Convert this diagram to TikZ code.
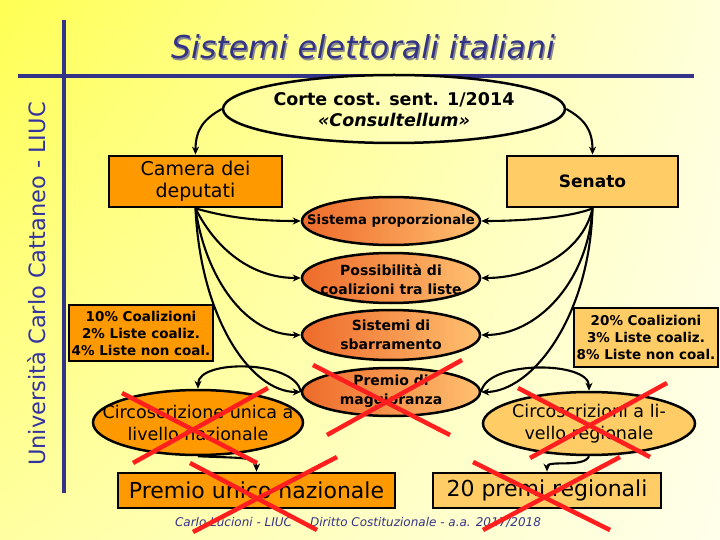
\documentclass[tikz,border=0pt]{standalone}
\usepackage{fontspec}
\setmainfont{DejaVu Sans}
\usetikzlibrary{shapes.geometric,arrows.meta,fadings}
\definecolor{navy}{HTML}{333388}
\definecolor{navyT}{HTML}{3333A0}
\definecolor{orA}{HTML}{FF9900}
\definecolor{orB}{HTML}{FFCC66}
\definecolor{redA}{HTML}{EE6A2A}
\definecolor{orC}{HTML}{FFC070}
\definecolor{corteA}{HTML}{FFFF99}
\definecolor{corteB}{HTML}{FFFFD6}
\definecolor{xred}{HTML}{FF1F1F}
\definecolor{bgL}{HTML}{FFFF55}
\definecolor{bgR}{HTML}{FFFFDC}
\tikzfading[name=fadeup,top color=transparent!100,bottom color=transparent!0]
\newcommand\setfs[2]{\fontsize{#1}{#2}\selectfont}
\begin{document}
\begin{tikzpicture}[x=1pt,y=-1pt,
  box/.style={rectangle,draw=black,line width=2.8pt,inner sep=0pt},
  ell/.style={ellipse,draw=black,line width=2.5pt,inner sep=0pt},
  arr/.style={-{Stealth[length=8pt,width=7pt]},line width=2.1pt},
  xline/.style={draw=xred,line width=4.5pt},
  midtxt/.style={align=center,font=\setfs{14}{19}\bfseries}]
\useasboundingbox (0,0) rectangle (720,540);
\shade[left color=bgL,right color=bgR] (0,0) rectangle (720,540);
\fill[white,fill opacity=0.45,path fading=fadeup] (0,0) rectangle (720,540);
% frame lines
\draw[navy,line width=3.5pt] (64,20) -- (64,493);
\draw[navy,line width=3.5pt] (18,76) -- (694,76);
% title
\node[font=\setfs{31.5}{36}\itshape,text=black!45] (titleS) at (364.5,48.5) {Sistemi elettorali italiani};
\node[font=\setfs{31.5}{36}\itshape,text=navy] (title) at (363,47) {Sistemi elettorali italiani};
\node[rotate=90,font=\setfs{22.5}{26},text=navyT] (univ) at (37,284) {Università Carlo Cattaneo - LIUC};
% top ellipse
\node[ell,left color=corteA,right color=corteB,minimum width=342pt,minimum height=68pt] (corte) at (394,109) {};
\node[align=center,font=\setfs{17.5}{21}\bfseries] (corteT) at (394,110) {Corte cost. sent. 1/2014\\{\itshape «Consultellum»}};
% chambers
\node[box,fill=orA,minimum width=173pt,minimum height=51pt,align=center,font=\setfs{19}{22}] (camera) at (195.5,181.5) {Camera dei\\deputati};
\node[box,fill=orB,minimum width=171pt,minimum height=51pt,font=\setfs{17}{20}\bfseries] (senato) at (592.5,181.5) {Senato};
% middle ellipses
\node[ell,left color=redA,right color=orC,minimum width=178pt,minimum height=48pt] (prop) at (391,221) {};
\node[align=center,font=\setfs{13.2}{19}\bfseries] (propT) at (391,221) {Sistema proporzionale};
\node[ell,left color=redA,right color=orC,minimum width=178pt,minimum height=50pt] (coal) at (391,278) {};
\node[midtxt] (coalT) at (391,279) {Possibilità di\\coalizioni tra liste};
\node[ell,left color=redA,right color=orC,minimum width=178pt,minimum height=50pt] (sbarr) at (391,335) {};
\node[midtxt] (sbarrT) at (391,335) {Sistemi di\\sbarramento};
\node[ell,left color=redA,right color=orC,minimum width=178pt,minimum height=48pt] (prem) at (391,392) {};
\node[midtxt] (premT) at (391,391) {Premio di\\maggioranza};
% threshold boxes
\node[box,fill=orA,minimum width=144pt,minimum height=56pt,align=center,font=\setfs{13.5}{17}\bfseries] (b10) at (141,333) {10\% Coalizioni\\2\% Liste coaliz.\\4\% Liste non coal.};
\node[box,fill=orB,minimum width=144pt,minimum height=59pt,align=center,font=\setfs{13.5}{17}\bfseries] (b20) at (646,337.5) {20\% Coalizioni\\3\% Liste coaliz.\\8\% Liste non coal.};
% constituencies
\node[ell,fill=orA,minimum width=210pt,minimum height=65pt] (circU) at (198,422.5) {};
\node[align=center,font=\setfs{17.5}{22}] (circUT) at (198,423) {Circoscrizione unica a\\livello nazionale};
\node[ell,fill=orB,minimum width=212pt,minimum height=63pt] (circR) at (589,423.5) {};
\node[align=center,font=\setfs{17.5}{22}] (circRT) at (589,424) {Circoscrizioni a li-\\vello regionale};
% bonuses
\node[box,fill=orA,minimum width=277pt,minimum height=35pt,font=\setfs{22}{26}] (pun) at (256.5,490.5) {Premio unico nazionale};
\node[box,fill=orB,minimum width=228pt,minimum height=35pt,font=\setfs{22}{26}] (prg) at (547,490.5) {20 premi regionali};
% footer
\node[font=\setfs{12}{14}\itshape,text=navy] (foot) at (358,522) {Carlo Lucioni - LIUC\hspace{18pt}Diritto Costituzionale - a.a. 2017/2018};
% connectors
\draw[arr] (corte.west) .. controls +(-18,10) and +(0,-25) .. (camera.north);
\draw[arr] (corte.east) .. controls +(18,10) and +(0,-25) .. (senato.north);
\draw[arr] (camera.south) .. controls +(35,10) and +(-40,0) .. (prop.west);
\draw[arr] (camera.south) .. controls +(20,40) and +(-50,0) .. (coal.west);
\draw[arr] (camera.south) .. controls +(10,70) and +(-55,0) .. (sbarr.west);
\draw[arr] (camera.south) .. controls +(5,110) and +(-50,0) .. (prem.west);
\draw[arr] (senato.south) .. controls +(-25,10) and +(35,0) .. (prop.east);
\draw[arr] (senato.south) .. controls +(-10,45) and +(50,0) .. (coal.east);
\draw[arr] (senato.south) .. controls +(-5,75) and +(55,0) .. (sbarr.east);
\draw[arr] (senato.south) .. controls +(-3,110) and +(50,0) .. (prem.east);
\draw[arr] (prem.west) .. controls +(-5,-32) and +(0,-30) .. (circU.north);
\draw[arr] (prem.east) .. controls +(5,-32) and +(0,-30) .. (circR.north);
\draw[arr] (circU.south) .. controls +(45,2) and +(0,-15) .. (pun.north);
\draw[arr] (circR.south) .. controls +(-5,12) and +(0,-12) .. (prg.north);
% red crosses
\draw[xline] (313,365) -- (450,435);
\draw[xline] (462,360) -- (327,435);
\draw[xline] (122,393) -- (257,463);
\draw[xline] (268,388) -- (133,463);
\draw[xline] (190,463) -- (317,530);
\draw[xline] (337,457) -- (193,532);
\draw[xline] (518,388) -- (650,457);
\draw[xline] (667,383) -- (530,458);
\draw[xline] (473,462) -- (610,530);
\draw[xline] (620,457) -- (483,530);
\end{tikzpicture}
\end{document}
